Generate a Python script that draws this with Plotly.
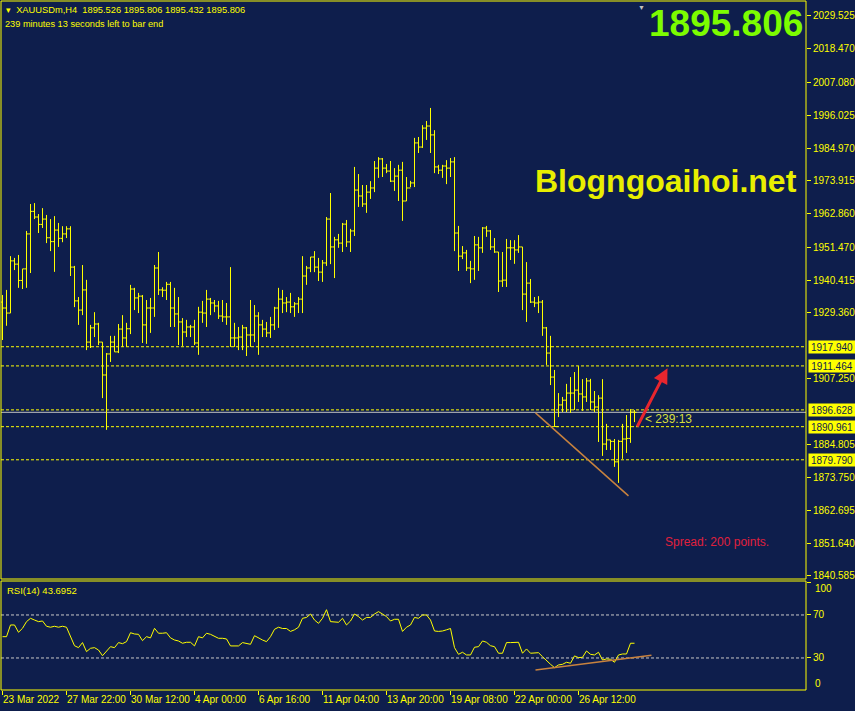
import plotly.graph_objects as go

# ---- data (XAUUSDm, H4) ----
opens = [1933.0, 1931.0, 1929.3, 1946.9, 1945.8, 1940.3, 1944.2, 1956.0, 1963.6, 1961.7,
         1959.2, 1961.0, 1954.7, 1953.4, 1957.3, 1954.5, 1956.0, 1957.7, 1944.8, 1933.4,
         1930.3, 1937.1, 1919.5, 1924.3, 1925.6, 1919.5, 1908.4, 1915.5, 1919.5, 1916.2,
         1923.9, 1920.9, 1924.0, 1937.4, 1934.4, 1935.0, 1925.3, 1931.0, 1931.0, 1944.5,
         1937.1, 1937.0, 1939.0, 1931.0, 1929.0, 1926.3, 1922.9, 1924.6, 1924.6, 1919.2,
         1929.6, 1929.3, 1934.0, 1932.7, 1931.7, 1928.3, 1928.0, 1928.0, 1920.9, 1920.9,
         1921.2, 1924.3, 1921.9, 1921.9, 1928.3, 1925.3, 1923.9, 1922.6, 1925.3, 1931.0,
         1934.0, 1932.7, 1933.0, 1931.4, 1932.4, 1934.0, 1941.8, 1944.5, 1948.2, 1944.8,
         1943.1, 1946.2, 1961.0, 1951.6, 1954.0, 1952.9, 1959.3, 1953.3, 1957.0, 1970.8,
         1968.8, 1966.1, 1970.1, 1971.5, 1978.2, 1981.3, 1978.2, 1977.2, 1973.8, 1975.5,
         1977.5, 1967.1, 1971.5, 1973.2, 1986.7, 1985.3, 1991.7, 1992.4, 1989.4, 1978.6,
         1977.5, 1978.9, 1978.2, 1980.3, 1956.3, 1948.5, 1949.6, 1944.5, 1944.2, 1952.3,
         1951.3, 1958.0, 1957.0, 1951.6, 1949.9, 1940.1, 1940.4, 1951.3, 1951.3, 1950.6,
         1951.6, 1935.7, 1939.4, 1933.0, 1932.7, 1933.0, 1924.3, 1915.8, 1907.7, 1891.0,
         1898.3, 1899.9, 1902.3, 1902.3, 1903.3, 1902.0, 1901.0, 1906.4, 1899.3, 1897.6,
         1900.6, 1885.1, 1886.5, 1886.0, 1879.1, 1886.0, 1886.8, 1887.0, 1895.9]
highs = [1935.4, 1937.1, 1948.5, 1947.9, 1948.9, 1944.2, 1957.0, 1966.1, 1966.4, 1962.7,
         1964.7, 1962.4, 1961.0, 1962.0, 1959.7, 1958.6, 1958.6, 1958.6, 1945.2, 1934.7,
         1945.5, 1940.5, 1925.3, 1929.6, 1926.0, 1919.5, 1915.8, 1921.6, 1921.6, 1925.6,
         1928.6, 1926.0, 1938.8, 1937.8, 1936.1, 1935.4, 1933.7, 1934.4, 1945.5, 1949.9,
         1938.0, 1939.8, 1939.8, 1937.8, 1934.7, 1927.6, 1927.0, 1925.3, 1927.0, 1931.4,
         1933.4, 1937.1, 1934.4, 1933.7, 1933.4, 1933.7, 1932.7, 1944.8, 1926.0, 1924.6,
         1925.3, 1924.6, 1933.7, 1932.0, 1929.6, 1927.0, 1926.3, 1928.0, 1931.4, 1937.8,
         1937.1, 1934.7, 1936.1, 1933.0, 1934.7, 1948.5, 1945.2, 1948.2, 1950.2, 1947.9,
         1947.2, 1961.7, 1969.8, 1955.0, 1956.0, 1959.7, 1960.7, 1957.7, 1978.6, 1976.2,
         1972.5, 1972.5, 1973.8, 1980.6, 1981.9, 1981.6, 1979.6, 1980.6, 1978.2, 1979.3,
         1980.3, 1975.2, 1973.9, 1988.4, 1988.7, 1992.7, 1994.1, 1998.5, 1991.0, 1979.3,
         1979.3, 1980.9, 1981.6, 1981.9, 1958.7, 1951.9, 1950.6, 1946.9, 1955.3, 1955.0,
         1958.3, 1958.7, 1957.3, 1954.6, 1949.9, 1949.9, 1954.3, 1953.9, 1953.9, 1955.6,
         1951.6, 1946.5, 1940.8, 1934.7, 1935.0, 1933.7, 1924.6, 1921.6, 1910.1, 1902.3,
         1901.0, 1905.4, 1907.7, 1909.4, 1911.4, 1907.0, 1907.4, 1907.1, 1903.0, 1901.6,
         1907.0, 1891.9, 1886.5, 1886.8, 1886.5, 1891.9, 1894.9, 1896.9, 1896.6]
lows = [1920.2, 1925.0, 1929.3, 1943.8, 1937.8, 1937.4, 1937.8, 1942.8, 1961.0, 1956.3,
        1958.0, 1952.9, 1950.2, 1943.2, 1951.6, 1953.2, 1954.6, 1941.8, 1931.3, 1925.3,
        1928.6, 1916.8, 1917.5, 1921.2, 1918.5, 1900.6, 1889.9, 1912.8, 1916.2, 1915.8,
        1917.9, 1917.9, 1922.2, 1930.3, 1929.3, 1919.2, 1918.9, 1922.6, 1928.0, 1935.4,
        1934.7, 1933.7, 1924.6, 1924.6, 1918.5, 1918.2, 1921.2, 1921.2, 1918.5, 1915.2,
        1926.0, 1924.6, 1928.6, 1929.6, 1927.3, 1926.3, 1925.3, 1917.9, 1917.9, 1916.8,
        1916.8, 1914.8, 1917.9, 1919.5, 1915.2, 1921.2, 1921.2, 1920.9, 1923.6, 1924.3,
        1929.3, 1929.6, 1929.3, 1928.0, 1929.3, 1929.3, 1938.8, 1943.1, 1943.1, 1940.1,
        1939.8, 1945.2, 1945.8, 1941.1, 1951.3, 1949.9, 1951.6, 1949.9, 1955.3, 1965.1,
        1965.1, 1963.1, 1967.8, 1970.1, 1974.9, 1975.2, 1976.5, 1973.5, 1970.5, 1967.1,
        1960.4, 1967.1, 1971.8, 1971.8, 1983.3, 1985.0, 1987.7, 1983.3, 1976.5, 1976.2,
        1974.9, 1972.8, 1975.2, 1950.2, 1943.5, 1947.5, 1943.5, 1939.4, 1940.5, 1943.5,
        1949.6, 1955.0, 1950.6, 1949.6, 1936.4, 1938.1, 1938.1, 1947.2, 1945.9, 1949.6,
        1930.3, 1926.3, 1932.7, 1931.3, 1929.3, 1921.6, 1911.8, 1905.0, 1890.9, 1894.2,
        1895.9, 1895.9, 1895.6, 1896.6, 1899.3, 1896.3, 1899.3, 1896.6, 1895.9, 1885.8,
        1881.1, 1883.1, 1883.1, 1877.4, 1872.0, 1880.1, 1882.1, 1885.5, 1892.5]
closes = [1931.0, 1929.3, 1946.9, 1945.8, 1940.3, 1944.2, 1956.0, 1963.6, 1961.7, 1959.2,
          1961.0, 1954.7, 1953.4, 1957.3, 1954.5, 1956.0, 1957.7, 1944.8, 1933.4, 1930.3,
          1937.1, 1919.5, 1924.3, 1925.6, 1919.5, 1908.4, 1915.5, 1919.5, 1916.2, 1923.9,
          1920.9, 1924.0, 1937.4, 1934.4, 1935.0, 1925.3, 1931.0, 1931.0, 1944.5, 1937.1,
          1937.0, 1939.0, 1931.0, 1929.0, 1926.3, 1922.9, 1924.6, 1924.6, 1919.2, 1929.6,
          1929.3, 1934.0, 1932.7, 1931.7, 1928.3, 1928.0, 1928.0, 1920.9, 1920.9, 1921.2,
          1924.3, 1921.9, 1921.9, 1928.3, 1925.3, 1923.9, 1922.6, 1925.3, 1931.0, 1934.0,
          1932.7, 1933.0, 1931.4, 1932.4, 1934.0, 1941.8, 1944.5, 1948.2, 1944.8, 1943.1,
          1946.2, 1961.0, 1951.6, 1954.0, 1952.9, 1959.3, 1953.3, 1957.0, 1970.8, 1968.8,
          1966.1, 1970.1, 1971.5, 1978.2, 1981.3, 1978.2, 1977.2, 1973.8, 1975.5, 1977.5,
          1967.1, 1971.5, 1973.2, 1986.7, 1985.3, 1991.7, 1992.4, 1989.4, 1978.6, 1977.5,
          1978.9, 1978.2, 1980.3, 1956.3, 1948.5, 1949.6, 1944.5, 1944.2, 1952.3, 1951.3,
          1958.0, 1957.0, 1951.6, 1949.9, 1940.1, 1940.4, 1951.3, 1951.3, 1950.6, 1951.6,
          1935.7, 1939.4, 1933.0, 1932.7, 1933.0, 1924.3, 1915.8, 1907.7, 1891.0, 1898.3,
          1899.9, 1902.3, 1902.3, 1903.3, 1902.0, 1901.0, 1906.4, 1899.3, 1897.6, 1900.6,
          1885.1, 1886.5, 1886.0, 1879.1, 1886.0, 1886.8, 1887.0, 1895.9, 1895.8]

rsi_vals = [49.8, 49.8, 60.7, 60.7, 53.9, 57.6, 63.8, 66.9, 65.3, 63.8,
            64.4, 59.5, 58.6, 59.5, 58.6, 59.5, 58.6, 49.8, 41.4, 39.6,
            44.3, 35.9, 39.0, 39.6, 37.4, 32.1, 36.5, 40.5, 39.6, 44.3,
            43.3, 45.2, 53.5, 52.3, 52.0, 46.1, 49.8, 48.7, 57.6, 53.0,
            53.0, 53.5, 48.7, 46.7, 45.8, 43.7, 44.6, 44.6, 41.2, 49.8,
            48.7, 53.0, 52.0, 49.8, 48.3, 48.3, 47.7, 41.2, 41.2, 41.2,
            44.3, 43.7, 42.7, 50.7, 48.3, 46.7, 45.2, 49.8, 56.7, 58.6,
            57.4, 57.4, 54.7, 56.2, 58.6, 66.9, 67.7, 70.9, 65.3, 62.2,
            66.9, 74.9, 63.8, 63.8, 63.2, 66.9, 60.7, 64.4, 70.9, 68.5,
            65.3, 67.7, 67.7, 70.9, 73.1, 70.9, 68.5, 64.4, 66.0, 66.0,
            54.7, 58.6, 60.7, 67.7, 66.9, 70.0, 70.0, 65.3, 55.1, 54.7,
            55.1, 56.2, 57.4, 39.6, 33.4, 35.3, 32.8, 32.8, 40.0, 40.5,
            45.8, 44.6, 41.4, 40.5, 34.4, 34.4, 44.3, 44.3, 44.3, 44.6,
            34.4, 38.4, 34.4, 34.9, 34.9, 31.2, 27.2, 24.1, 21.0, 23.5,
            24.1, 26.0, 25.1, 31.9, 30.3, 30.6, 36.5, 33.4, 32.8, 35.3,
            28.1, 29.1, 28.8, 26.0, 32.8, 33.7, 33.7, 43.7, 43.7]

bar_idx = list(range(len(closes)))

date_ticks = [0, 16, 32, 48, 64, 80, 96, 112, 128, 144]
date_labels = ["23 Mar 2022", "27 Mar 22:00", "30 Mar 12:00", "4 Apr 00:00", "6 Apr 16:00",
               "11 Apr 04:00", "13 Apr 20:00", "19 Apr 08:00", "22 Apr 00:00", "26 Apr 12:00"]

price_ticks = [2029.525, 2018.470, 2007.080, 1996.025, 1984.970, 1973.915, 1962.860, 1951.470,
               1940.415, 1929.360, 1907.250, 1884.805, 1873.750, 1862.695, 1851.640, 1840.585]

levels = [1917.940, 1911.464, 1896.628, 1890.961, 1879.790]
bid = 1895.806

# hand drawn objects
trend_x = [133.25, 156.5]
trend_y = [1895.6, 1867.6]
rsi_trend_x = [133.25, 162.25]
rsi_trend_y = [18.8, 32.5]
arrow_from = (158.5, 1890.5)
arrow_to = (166.25, 1910.7)

BG = "#0E1E4C"
YEL = "#FFFF00"
TAN = "#C8823E"
FONT = "Liberation Sans"

fig = go.Figure()

fig.add_trace(go.Ohlc(
    x=bar_idx, open=opens, high=highs, low=lows, close=closes,
    increasing=dict(line=dict(color=YEL, width=1)),
    decreasing=dict(line=dict(color=YEL, width=1)),
    tickwidth=0.5, xaxis="x", yaxis="y", hoverinfo="skip"
))

fig.add_trace(go.Scatter(x=trend_x, y=trend_y, mode="lines",
                         line=dict(color=TAN, width=1.5), xaxis="x", yaxis="y"))

fig.add_trace(go.Scatter(x=bar_idx, y=rsi_vals, mode="lines",
                         line=dict(color=YEL, width=1), xaxis="x", yaxis="y2"))

fig.add_trace(go.Scatter(x=rsi_trend_x, y=rsi_trend_y, mode="lines",
                         line=dict(color=TAN, width=1.5), xaxis="x", yaxis="y2"))

shapes = []
for lv in levels:
    shapes.append(dict(type="line", xref="x domain", x0=0, x1=1, yref="y", y0=lv, y1=lv,
                       line=dict(color=YEL, width=1, dash="3px,2px"), layer="below"))
shapes.append(dict(type="line", xref="x domain", x0=0, x1=1, yref="y", y0=bid, y1=bid,
                   line=dict(color="#C0C0C0", width=1), layer="below"))
for lv in [70, 30]:
    shapes.append(dict(type="line", xref="x domain", x0=0, x1=1, yref="y2", y0=lv, y1=lv,
                       line=dict(color="#C8C8C8", width=1, dash="3px,2px"), layer="below"))
# pane borders
shapes.append(dict(type="rect", xref="x domain", x0=0, x1=1, yref="y domain", y0=0, y1=1,
                   line=dict(color=YEL, width=1)))
shapes.append(dict(type="rect", xref="x domain", x0=0, x1=1, yref="y2 domain", y0=0, y1=1,
                   line=dict(color=YEL, width=1)))

annotations = []
for lv in levels:
    annotations.append(dict(xref="paper", x=1.0025, xanchor="left", yref="y", y=lv,
                            text=f"{lv:.3f}", showarrow=False, bgcolor=YEL, width=46,
                            height=12, borderpad=0,
                            font=dict(family=FONT, size=10, color=BG)))

annotations += [
    dict(xref="paper", x=0.004, xanchor="left", yref="paper", y=0.987, yanchor="middle",
         text="\u25be  XAUUSDm,H4  1895.526 1895.806 1895.432 1895.806", showarrow=False,
         font=dict(family=FONT, size=9.3, color=YEL)),
    dict(xref="paper", x=0.003, xanchor="left", yref="paper", y=0.967, yanchor="middle",
         text="239 minutes 13 seconds left to bar end", showarrow=False,
         font=dict(family=FONT, size=9.2, color=YEL)),
    dict(xref="paper", x=0.999, xanchor="right", yref="paper", y=0.968, yanchor="middle",
         text="<b>1895.806</b>", showarrow=False,
         font=dict(family=FONT, size=37, color="#7CFC00")),
    dict(xref="paper", x=0.826, xanchor="center", yref="paper", y=0.739, yanchor="middle",
         text="<b>Blogngoaihoi.net</b>", showarrow=False,
         font=dict(family=FONT, size=32, color="#E8EE00")),
    dict(xref="x", x=159.75, yref="paper", y=1.0, yanchor="top", text="\u25bc",
         showarrow=False, font=dict(size=7, color="#C0C0C0")),
    dict(xref="x", x=160, xanchor="left", yref="y", y=1893.5, text="&lt; 239:13",
         showarrow=False, font=dict(family=FONT, size=12, color="#D6DE3C")),
    dict(xref="x", x=165.0, xanchor="left", yref="y", y=1852.0, text="Spread: 200 points.",
         showarrow=False, font=dict(family=FONT, size=12, color="#E0203C")),
    dict(xref="x", x=arrow_to[0], y=arrow_to[1], axref="x", ax=arrow_from[0],
         ayref="y", ay=arrow_from[1], yref="y", text="", showarrow=True,
         arrowhead=2, arrowsize=1, arrowwidth=3, arrowcolor="#E8262E"),
    dict(xref="paper", x=0.005, xanchor="left", yref="paper", y=0.145, yanchor="middle",
         text="RSI(14) 43.6952", showarrow=False, font=dict(family=FONT, size=9.5, color=YEL)),
    dict(xref="paper", x=1.009, xanchor="left", yref="paper", y=0.148, yanchor="middle",
         text="100", showarrow=False, font=dict(family=FONT, size=10, color=YEL)),
    dict(xref="paper", x=1.009, xanchor="left", yref="paper", y=0.009, yanchor="middle",
         text="0", showarrow=False, font=dict(family=FONT, size=10, color=YEL)),
]

fig.update_layout(
    width=855,
    height=711,
    margin=dict(l=1, r=49, t=1, b=21),
    paper_bgcolor=BG,
    plot_bgcolor=BG,
    showlegend=False,
    shapes=shapes,
    annotations=annotations,
    xaxis=dict(
        range=[-0.375, 200.875], anchor="y2", automargin=False, tickangle=0,
        tickvals=date_ticks, ticktext=date_labels,
        ticks="outside", ticklen=4, tickcolor=YEL,
        ticklabelposition="outside right",
        tickfont=dict(family=FONT, size=10, color=YEL),
        showgrid=False, zeroline=False, showline=False,
        rangeslider=dict(visible=False)
    ),
    yaxis=dict(
        domain=[0.1611, 1], range=[1839.57, 2034.58], side="right", automargin=False,
        tickvals=price_ticks, ticktext=[f"{v:.3f}" for v in price_ticks],
        ticks="outside", ticklen=4, tickcolor=YEL,
        tickfont=dict(family=FONT, size=10, color=YEL),
        showgrid=False, zeroline=False
    ),
    yaxis2=dict(
        domain=[0, 0.1582], range=[0.2, 101.6], side="right", anchor="x", automargin=False,
        tickvals=[100, 70, 30, 0], ticktext=["", "70", "30", ""],
        ticks="outside", ticklen=4, tickcolor=YEL,
        tickfont=dict(family=FONT, size=10, color=YEL),
        showgrid=False, zeroline=False
    )
)

# drop the browser's default page margin so the chart sits at the window corner
fig.write_html("out.html",
               config={"displayModeBar": False},
               post_script="document.body.style.margin='0';"
                           "document.body.style.background='#0E1E4C';")
